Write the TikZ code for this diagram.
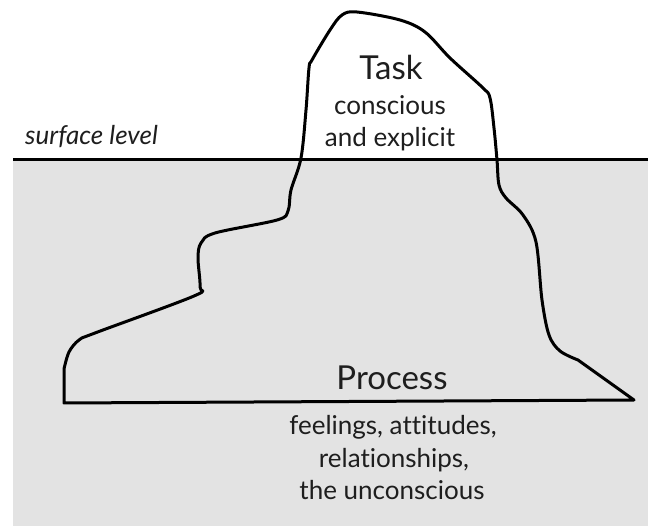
\documentclass[tikz,border=0pt]{standalone}
\usepackage{fontspec}
\setmainfont[Ligatures={NoCommon,NoRare,NoContextual}]{Lato}
\definecolor{water}{RGB}{227,227,227}
\definecolor{ink}{RGB}{30,30,30}
\tikzset{
  waterfill/.style={fill=water, draw=none},
  surfline/.style={line width=3pt, draw=black},
  berg/.style={line width=3pt, draw=black, line join=round},
  bigtext/.style={font=\fontsize{33}{36}\selectfont, text=ink, inner sep=0pt, anchor=base},
  midtext/.style={font=\fontsize{26}{30}\selectfont, text=ink, inner sep=0pt, anchor=base},
}
\begin{document}
\begin{tikzpicture}[x=1pt,y=-1pt]
\useasboundingbox (0,0) rectangle (648,526);
\fill[waterfill] (13,160) rectangle (648,526);
\coordinate (sL) at (13,160);
\coordinate (sR) at (648,160);
\draw[surfline] (sL) -- (sR);
\draw[berg] (64,403) -- (64,369) -- plot[smooth, tension=0.55] coordinates {
  (64,369) (69,352) (79,340) (95,333) (194,296) (200,287) (198,258) (201,243)
  (215,233) (277,220) (288,211) (291,190) (301,158) (306,110) (309,68) (312,60)
  (330,30) (342,15) (357,12) (400,20) (425,32) (450,58) (483,88) (490,98)
  (494,128) (497,160) (499,185) (506,198) (523,215) (536,242) (542,300)
  (549,335) (560,351) (578,360)} -- (634,400) -- cycle;
\node[bigtext] (task) at (391,80) {Task};
\node[midtext] (conscious) at (390,115) {conscious};
\node[midtext] (explicit) at (390,147) {and explicit};
\node[midtext, anchor=base west, font=\fontsize{26}{30}\selectfont\itshape] (surface) at (25,145) {surface level};
\node[bigtext] (process) at (392,390) {Process};
\node[midtext] (feel) at (393,435) {feelings, attitudes,};
\node[midtext] (rel) at (394,467) {relationships,};
\node[midtext] (unc) at (392,499) {the unconscious};
\end{tikzpicture}
\end{document}
